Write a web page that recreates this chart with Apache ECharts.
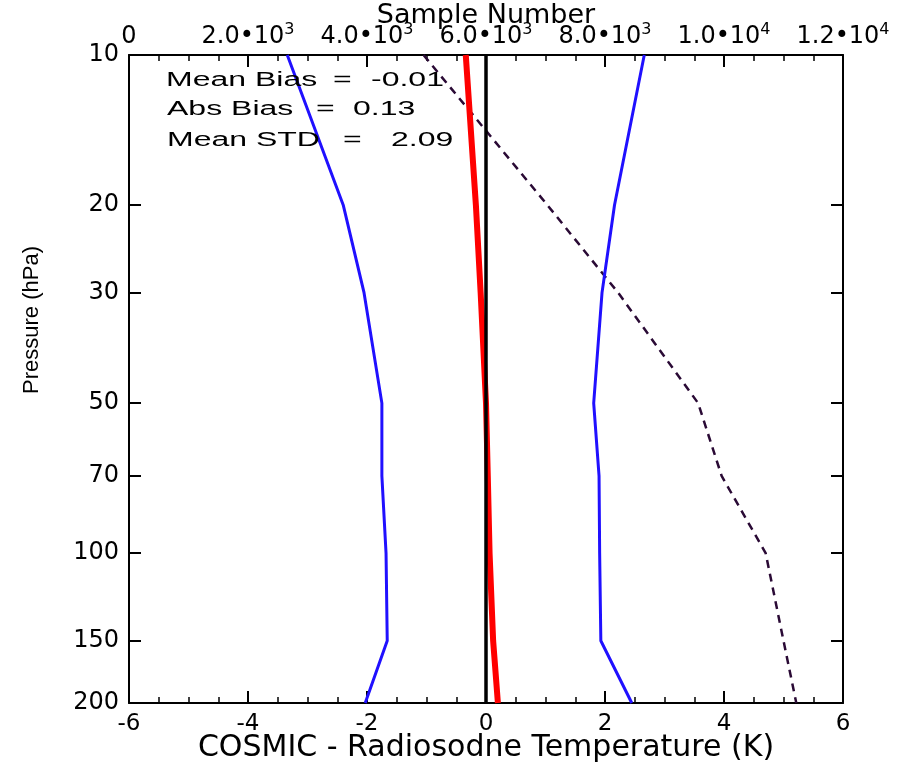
<!DOCTYPE html>
<html>
<head>
<meta charset="utf-8">
<script src="https://cdn.jsdelivr.net/npm/echarts@6/dist/echarts.min.js"></script>
<style>html,body{margin:0;padding:0;background:#fff}#c{width:898px;height:763px}</style>
</head>
<body>
<div id="c"></div>
<script>
// ---- data ----
const pressure = [10, 20, 30, 50, 70, 100, 150, 200];            // hPa
const meanBias = [-0.34, -0.17, -0.09, 0.00, 0.03, 0.06, 0.12, 0.20]; // K
const lowerStd = [-3.34, -2.40, -2.05, -1.75, -1.75, -1.68, -1.66, -2.03];
const upperStd = [2.66, 2.16, 1.95, 1.81, 1.90, 1.91, 1.93, 2.45];
const sampleNumber = [4950, 7030, 8220, 9565, 9960, 10700, 11000, 11215];
const zeroLineX = [0, 0];
const zeroLineP = [10, 200];
const pressureTicks = [10, 20, 30, 50, 70, 100, 150, 200];
const statLabels = ['Mean Bias', 'Abs Bias', 'Mean STD'];
const statValues = ['-0.01', '0.13', '2.09'];

function pairs(xs, ps) { return xs.map((x, i) => [x, ps[i]]); }
function sampleLabel(v) {
  if (v === 0) return '0';
  const e = Math.floor(Math.log10(v) + 1e-9);
  const m = v / Math.pow(10, e);
  return m.toFixed(1) + '\u2022' + '10{sup|' + e + '}';
}

const FONT = 'DejaVu Sans';
const tickStyle = { color: '#000', width: 2 };
const chart = echarts.init(document.getElementById('c'), null, { renderer: 'canvas' });

const rowY = [80, 109, 140];
const labelX = [166, 167, 167];
const eqX = [333, 316, 343];
const valX = [371, 353, 391];
const graphics = [];
statLabels.forEach((t, i) => {
  [[t, labelX[i]], ['=', eqX[i]], [statValues[i], valX[i]]].forEach(([s, x]) => {
    graphics.push({
      type: 'text', x: x, y: rowY[i], scaleX: 1.6, z: 10,
      style: { text: s, font: '20px "Liberation Sans"', fill: '#000', verticalAlign: 'middle', align: 'left' }
    });
  });
});

const option = {
  animation: false,
  backgroundColor: '#fff',
  grid: { left: 129, right: 55, top: 55, bottom: 60, containLabel: false, outerBoundsMode: 'none' },
  xAxis: [
    {
      type: 'value', position: 'bottom', min: -6, max: 6, interval: 2,
      name: 'COSMIC - Radiosodne Temperature (K)', nameLocation: 'middle', nameGap: 30, nameMoveOverlap: false,
      nameTextStyle: { fontFamily: FONT, fontSize: 30, color: '#000' },
      axisLine: { show: true, onZero: false, lineStyle: { color: '#000', width: 2 } },
      axisTick: { show: true, inside: true, length: 12, lineStyle: tickStyle },
      minorTick: { show: true, splitNumber: 4, length: 6, lineStyle: { color: '#000', width: 1.5 } },
      axisLabel: { fontFamily: FONT, fontSize: 23, color: '#000', margin: 10 },
      splitLine: { show: false }, minorSplitLine: { show: false }
    },
    {
      type: 'value', position: 'top', min: 0, max: 12000, interval: 2000,
      name: 'Sample Number', nameLocation: 'middle', nameGap: 26, nameMoveOverlap: false,
      nameTextStyle: { fontFamily: FONT, fontSize: 27, color: '#000' },
      axisLine: { show: true, onZero: false, lineStyle: { color: '#000', width: 2 } },
      axisTick: { show: true, inside: true, length: 12, lineStyle: tickStyle },
      minorTick: { show: true, splitNumber: 4, length: 6, lineStyle: { color: '#000', width: 1.5 } },
      axisLabel: {
        fontFamily: FONT, fontSize: 24, color: '#000', margin: 3, lineHeight: 30,
        formatter: sampleLabel,
        rich: { sup: { fontFamily: FONT, fontSize: 16, lineHeight: 14, verticalAlign: 'top', color: '#000' } }
      },
      splitLine: { show: false }
    }
  ],
  yAxis: [
    {
      type: 'log', logBase: 10, min: 10, max: 200, inverse: true, position: 'left',
      name: 'Pressure (hPa)', nameLocation: 'middle', nameGap: 86, nameRotate: 90, nameMoveOverlap: false,
      nameTextStyle: { fontFamily: 'Liberation Sans', fontSize: 22, color: '#000', padding: [0, 0, 0, 118] },
      axisLine: { show: true, onZero: false, lineStyle: { color: '#000', width: 2 } },
      axisTick: { show: true, inside: true, length: 12, customValues: pressureTicks, lineStyle: tickStyle },
      axisLabel: { customValues: pressureTicks, fontFamily: FONT, fontSize: 24, color: '#000', margin: 10 },
      splitLine: { show: false }
    },
    {
      type: 'log', logBase: 10, min: 10, max: 200, inverse: true, position: 'right',
      axisLine: { show: true, onZero: false, lineStyle: { color: '#000', width: 2 } },
      axisTick: { show: true, inside: true, length: 12, customValues: pressureTicks, lineStyle: tickStyle },
      axisLabel: { show: false },
      splitLine: { show: false }
    }
  ],
  series: [
    {
      name: 'Sample Number', type: 'line', xAxisIndex: 1, yAxisIndex: 0,
      data: pairs(sampleNumber, pressure), symbol: 'none',
      lineStyle: { color: '#2a0a35', width: 2.5, type: [8, 6] }
    },
    {
      name: 'Bias - STD', type: 'line', xAxisIndex: 0, yAxisIndex: 0,
      data: pairs(lowerStd, pressure), symbol: 'none',
      lineStyle: { color: '#2010ff', width: 3 }
    },
    {
      name: 'Bias + STD', type: 'line', xAxisIndex: 0, yAxisIndex: 0,
      data: pairs(upperStd, pressure), symbol: 'none',
      lineStyle: { color: '#2010ff', width: 3 }
    },
    {
      name: 'Mean Bias', type: 'line', xAxisIndex: 0, yAxisIndex: 0,
      data: pairs(meanBias, pressure), symbol: 'none',
      lineStyle: { color: '#ff0000', width: 6 }
    },
    {
      name: 'Zero', type: 'line', xAxisIndex: 0, yAxisIndex: 0,
      data: pairs(zeroLineX, zeroLineP), symbol: 'none',
      lineStyle: { color: '#000', width: 3.5 }
    }
  ],
  graphic: graphics
};
chart.setOption(option);
</script>
</body>
</html>
